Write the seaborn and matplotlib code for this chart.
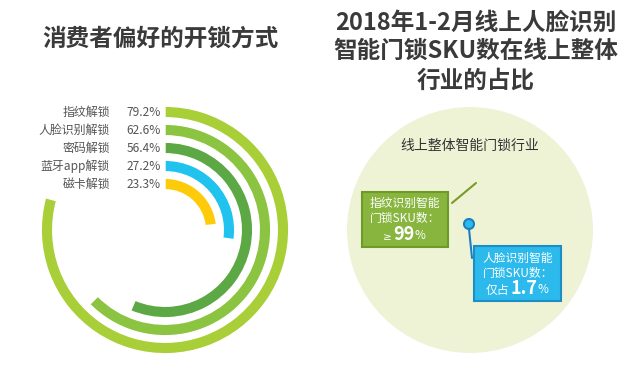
import numpy as np
import pandas as pd
import matplotlib
matplotlib.use("Agg")
import matplotlib.pyplot as plt
import seaborn as sns
from matplotlib.patches import Circle, Rectangle

sns.set_theme(style="white")
plt.rcParams['font.family'] = ['Noto Sans CJK SC', 'DejaVu Sans']

# ---- data ----
categories = ["指纹解锁", "人脸识别解锁", "密码解锁", "蓝牙app解锁", "磁卡解锁"]
values = [79.2, 62.6, 56.4, 27.2, 23.3]
colors = ["#a9cf38", "#8bc440", "#5ba845", "#1fc3ee", "#fecb0a"]
left_title = "消费者偏好的开锁方式"
right_title = ["2018年1-2月线上人脸识别", "智能门锁SKU数在线上整体", "行业的占比"]
circle_label = "线上整体智能门锁行业"
fp_lines = ["指纹识别智能", "门锁SKU数："]
fp_share = "99"
face_lines = ["人脸识别智能", "门锁SKU数："]
face_share = "1.7"

W, H = 640, 381
fig = plt.figure(figsize=(W / 100, H / 100), dpi=100)
fig.patch.set_facecolor("white")

# ---- radial bar chart ----
cx, cy = 165, 230          # centre in pixels (top-left origin)
R = 126                    # axes radius in px
pitch = 18.0               # ring pitch in px
r_outer = 118.0            # outer ring centre radius px
ax = fig.add_axes([(cx - R) / W, (H - cy - R) / H, 2 * R / W, 2 * R / H], projection="polar")
df = pd.DataFrame({"cat": categories, "theta": np.array(values) / 100 * 2 * np.pi})
sns.barplot(data=df, x="theta", y="cat", hue="cat", palette=colors, orient="h",
            width=11.5 / pitch, legend=False, ax=ax, saturation=1)
ax.set_theta_zero_location("N")
ax.set_theta_direction(-1)
ax.set_xlim(0, 2 * np.pi)
centre_units = r_outer / pitch          # category 0 at r_outer
ax.set_ylim(centre_units, centre_units - R / pitch)
ax.set_axis_off()
ax.patch.set_alpha(0)

# ---- overlay axes in pixel coordinates ----
ov = fig.add_axes([0, 0, 1, 1], zorder=-1)
ov.set_xlim(0, W)
ov.set_ylim(H, 0)
ov.set_axis_off()
ov2 = fig.add_axes([0, 0, 1, 1], zorder=5)
ov2.set_xlim(0, W)
ov2.set_ylim(H, 0)
ov2.set_axis_off()
ov2.patch.set_alpha(0)

# labels for rings
for i, (c, v) in enumerate(zip(categories, values)):
    y = cy - (r_outer - i * pitch)
    ov2.text(110, y, c, ha="right", va="center", fontsize=8.6, color="#555555")
    ov2.text(161, y, f"{v:.1f}%", ha="right", va="center", fontsize=8.6, color="#555555")

# left title
ov2.text(160, 39, left_title, ha="center", va="center", fontsize=17,
         fontweight="bold", color="#3a3a3a")

# right title
for yy, line in zip([23, 51, 81], right_title):
    ov2.text(476, yy, line, ha="center", va="center", fontsize=17,
             fontweight="bold", color="#3a3a3a")

# big circle
ov.add_patch(Circle((470, 230), 123, facecolor="#eef3d6", edgecolor="none"))
ov2.text(470, 146, circle_label, ha="center", va="center", fontsize=10, color="#333333")

# green box
ov2.add_patch(Rectangle((362, 192), 86, 55, facecolor="#87b53e", edgecolor="#6f9a2a", lw=1.5))
ov2.plot([452, 476], [203, 183], color="#7a9a2a", lw=1.5)
ov2.text(405, 203, fp_lines[0], ha="center", va="center", fontsize=8.5, color="white")
ov2.text(405, 218, fp_lines[1], ha="center", va="center", fontsize=8.5, color="white")
ov2.text(392, 237, "≥", ha="right", va="center", fontsize=7.5, color="white",
         family=["DejaVu Sans"])
t99 = ov2.text(393, 234, fp_share, ha="left", va="center", fontsize=13,
               fontweight="bold", color="white")
ov2.annotate("%", xy=(1, 0), xycoords=t99, xytext=(0.2, 1), textcoords="offset points",
             ha="left", va="bottom", fontsize=8.5, color="white")

# blue box + pin
ov2.add_patch(Rectangle((474, 246), 87, 55, facecolor="#2cb9ec", edgecolor="#1c8ec6", lw=1.5))
ov2.plot([469, 472], [229, 258], color="#1c7fbf", lw=1.5)
ov2.add_patch(Circle((469, 224), 5, facecolor="#2cb9ec", edgecolor="#1c7fbf", lw=1.5))
ov2.text(518, 258, face_lines[0], ha="center", va="center", fontsize=8.5, color="white")
ov2.text(518, 273, face_lines[1], ha="center", va="center", fontsize=8.5, color="white")
ov2.text(509, 290, "仅占", ha="right", va="center", fontsize=8.5, color="white")
t17 = ov2.text(510, 288, face_share, ha="left", va="center", fontsize=13,
               fontweight="bold", color="white")
ov2.annotate("%", xy=(1, 0), xycoords=t17, xytext=(0.2, 1), textcoords="offset points",
             ha="left", va="bottom", fontsize=8.5, color="white")

fig.savefig("out.png", dpi=100, facecolor="white")
